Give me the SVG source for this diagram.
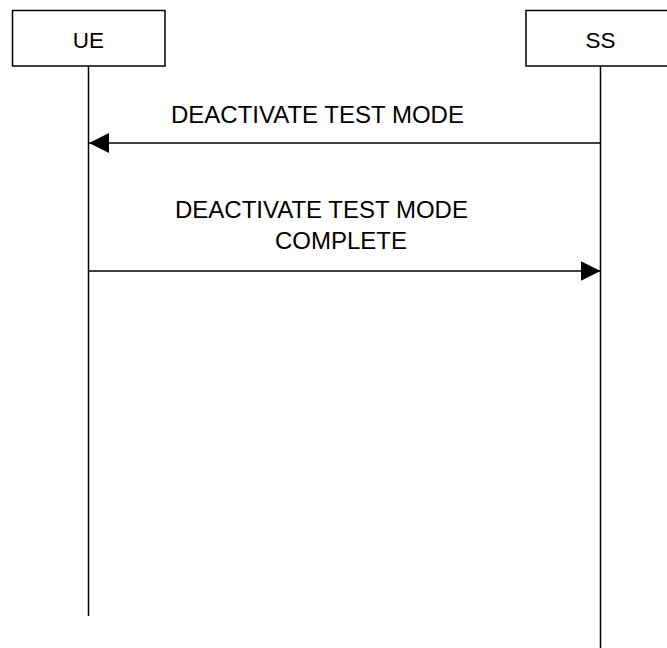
<svg xmlns="http://www.w3.org/2000/svg" width="667" height="648" viewBox="0 0 667 648">
<style>
.box{fill:#fff;stroke:#000;stroke-width:1.5}
.life{stroke:#000;stroke-width:1.5;fill:none}
.msg{stroke:#000;stroke-width:1.5;fill:none}
.lbl{font-family:"Liberation Sans",Arial,sans-serif;font-size:22.5px;fill:#000}
.mt{font-family:"Liberation Sans",Arial,sans-serif;font-size:24px;fill:#000}
</style>
<defs>
<marker id="ah" markerUnits="userSpaceOnUse" markerWidth="20" markerHeight="20" refX="20" refY="10" orient="auto">
<path d="M0,0 L20,10 L0,20 Z" fill="#000"/>
</marker>
</defs>
<rect width="667" height="648" fill="#fff"/>
<g id="UE">
<rect class="box" x="12.5" y="10.5" width="152.5" height="55.5"/>
<text class="lbl" x="88.5" y="48" text-anchor="middle">UE</text>
<line class="life" x1="88.5" y1="66" x2="88.5" y2="616"/>
</g>
<g id="SS">
<rect class="box" x="526" y="10.5" width="152.5" height="55.5"/>
<text class="lbl" x="600.5" y="48" text-anchor="middle">SS</text>
<line class="life" x1="600.5" y1="66" x2="600.5" y2="648"/>
</g>
<g id="connectors">
<line class="msg" x1="600.5" y1="143" x2="89" y2="143" marker-end="url(#ah)"/>
<text class="mt" x="171" y="123">DEACTIVATE TEST MODE</text>
<line class="msg" x1="88.5" y1="271" x2="600.5" y2="271" marker-end="url(#ah)"/>
<text class="mt" x="175" y="218">DEACTIVATE TEST MODE</text>
<text class="mt" x="275" y="249">COMPLETE</text>
</g>
</svg>
